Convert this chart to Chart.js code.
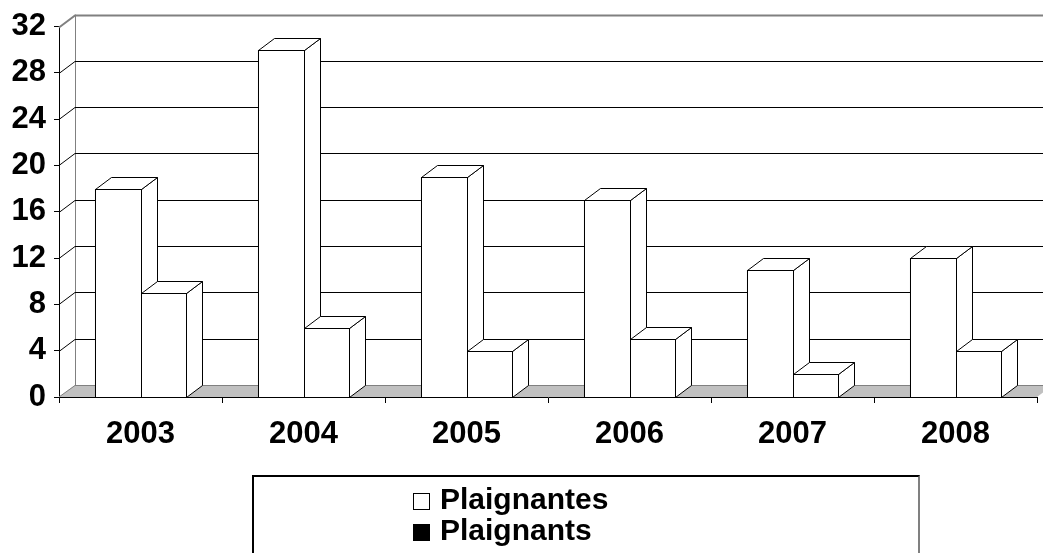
<!DOCTYPE html>
<html>
<head>
<meta charset="utf-8">
<script src="https://cdn.jsdelivr.net/npm/chart.js@4"></script>
<style>
  body { margin: 0; background: #fff; overflow: hidden; }
  #wrap { position: relative; width: 1043px; height: 553px; }
  #legend {
    position: absolute; left: 252px; top: 475px; width: 664px; height: 100px;
    border-top: 2px solid #000; border-left: 2px solid #000; border-right: 2px solid #808080;
    font-family: "Liberation Sans", Arial, sans-serif; font-weight: bold; font-size: 30px;
  }
  .item { position: absolute; left: 159px; height: 31px; line-height: 31px; white-space: nowrap; }
  .sw { display: inline-block; width: 15px; height: 15px; border: 1px solid #000; margin-right: 10px; vertical-align: -1px; }
</style>
</head>
<body>
<div id="wrap">
  <canvas id="myChart" width="1043" height="553"></canvas>
  <div id="legend">
    <div class="item" style="top:6px"><span class="sw" style="background:#fff"></span>Plaignantes</div>
    <div class="item" style="top:37px"><span class="sw" style="background:#000"></span>Plaignants</div>
  </div>
</div>
<script>
const labels = ["2003", "2004", "2005", "2006", "2007", "2008"];
const plaignantes = [18, 30, 19, 17, 11, 12];
const plaignants = [9, 6, 4, 5, 2, 4];
const yMax = 32;
const yStep = 4;

// depth of the fake 3d
const dx = 16;
const dy = -12;

const font = { family: "'Liberation Sans', Arial, sans-serif", weight: "bold" };

function bar3d(ctx, el) {
  const x1 = Math.round(el.x - el.width / 2) + 0.5;
  const x2 = Math.round(el.x + el.width / 2) + 0.5;
  const top = Math.round(el.y) + 0.5;
  const base = Math.round(el.base) + 0.5;
  ctx.fillStyle = "#fff";
  ctx.strokeStyle = "#000";
  ctx.lineWidth = 1;
  // side
  ctx.beginPath();
  ctx.moveTo(x2, top);
  ctx.lineTo(x2 + dx, top + dy);
  ctx.lineTo(x2 + dx, base + dy);
  ctx.lineTo(x2, base);
  ctx.closePath();
  ctx.fill();
  ctx.stroke();
  // top
  ctx.beginPath();
  ctx.moveTo(x1, top);
  ctx.lineTo(x1 + dx, top + dy);
  ctx.lineTo(x2 + dx, top + dy);
  ctx.lineTo(x2, top);
  ctx.closePath();
  ctx.fill();
  ctx.stroke();
  // front
  ctx.fillRect(x1, top, x2 - x1, base - top);
  ctx.strokeRect(x1, top, x2 - x1, base - top);
}

const walls = {
  id: "walls",
  beforeDatasetsDraw(chart) {
    const ctx = chart.ctx;
    const a = chart.chartArea;
    const y = chart.scales.y;
    const W = chart.width;
    ctx.save();
    // floor
    ctx.fillStyle = "#c0c0c0";
    ctx.beginPath();
    ctx.moveTo(a.left, a.bottom);
    ctx.lineTo(a.left + dx, a.bottom + dy);
    ctx.lineTo(a.right + dx, a.bottom + dy);
    ctx.lineTo(a.right, a.bottom);
    ctx.closePath();
    ctx.fill();
    ctx.strokeStyle = "#808080";
    ctx.lineWidth = 1;
    ctx.beginPath();
    ctx.moveTo(a.left, a.bottom);
    ctx.lineTo(a.left + dx, a.bottom + dy + 0.5);
    ctx.lineTo(W, a.bottom + dy + 0.5);
    ctx.stroke();
    // back left edge
    ctx.beginPath();
    ctx.moveTo(a.left + dx + 0.5, a.top + dy);
    ctx.lineTo(a.left + dx + 0.5, a.bottom + dy);
    ctx.stroke();
    // gridlines on side and back wall
    for (let v = yStep; v <= yMax; v += yStep) {
      const py = Math.round(y.getPixelForValue(v)) + 0.5;
      ctx.strokeStyle = v === yMax ? "#808080" : "#000";
      ctx.lineWidth = v === yMax ? 2 : 1;
      ctx.beginPath();
      ctx.moveTo(a.left, py);
      ctx.lineTo(a.left + dx, py + dy);
      ctx.lineTo(W, py + dy);
      ctx.stroke();
    }
    ctx.restore();
  },
  afterDatasetsDraw(chart) {
    const ctx = chart.ctx;
    ctx.save();
    const m0 = chart.getDatasetMeta(0).data;
    const m1 = chart.getDatasetMeta(1).data;
    for (let i = 0; i < labels.length; i++) {
      bar3d(ctx, m0[i]);
      bar3d(ctx, m1[i]);
    }
    ctx.restore();
  }
};

const data = {
  labels: labels,
  datasets: [
    { label: "Plaignantes", data: plaignantes, backgroundColor: "#fff", borderColor: "#000", borderWidth: 1 },
    { label: "Plaignants", data: plaignants, backgroundColor: "#fff", borderColor: "#000", borderWidth: 1 }
  ]
};

const config = {
  type: "bar",
  data: data,
  options: {
    responsive: false,
    animation: false,
    layout: { padding: { top: 25, right: 6, left: 0, bottom: 0 } },
    datasets: { bar: { categoryPercentage: 0.56, barPercentage: 1 } },
    plugins: { legend: { display: false }, tooltip: { enabled: false } },
    scales: {
      x: {
        grid: { drawOnChartArea: false, color: "#000", tickLength: 6, offset: true },
        border: { color: "#000", width: 1 },
        ticks: { color: "#000", font: { ...font, size: 31 }, padding: 13, maxRotation: 0 },
        afterFit(s) { s.height = 156; }
      },
      y: {
        min: 0,
        max: yMax,
        grid: { drawOnChartArea: false, color: "#000", tickLength: 5 },
        border: { color: "#000", width: 1 },
        ticks: { stepSize: yStep, color: "#000", font: { ...font, size: 31 }, padding: 8 },
        afterFit(s) { s.width = 59; }
      }
    }
  },
  plugins: [walls]
};

let myChart = new Chart(document.getElementById("myChart"), config);
</script>
</body>
</html>
